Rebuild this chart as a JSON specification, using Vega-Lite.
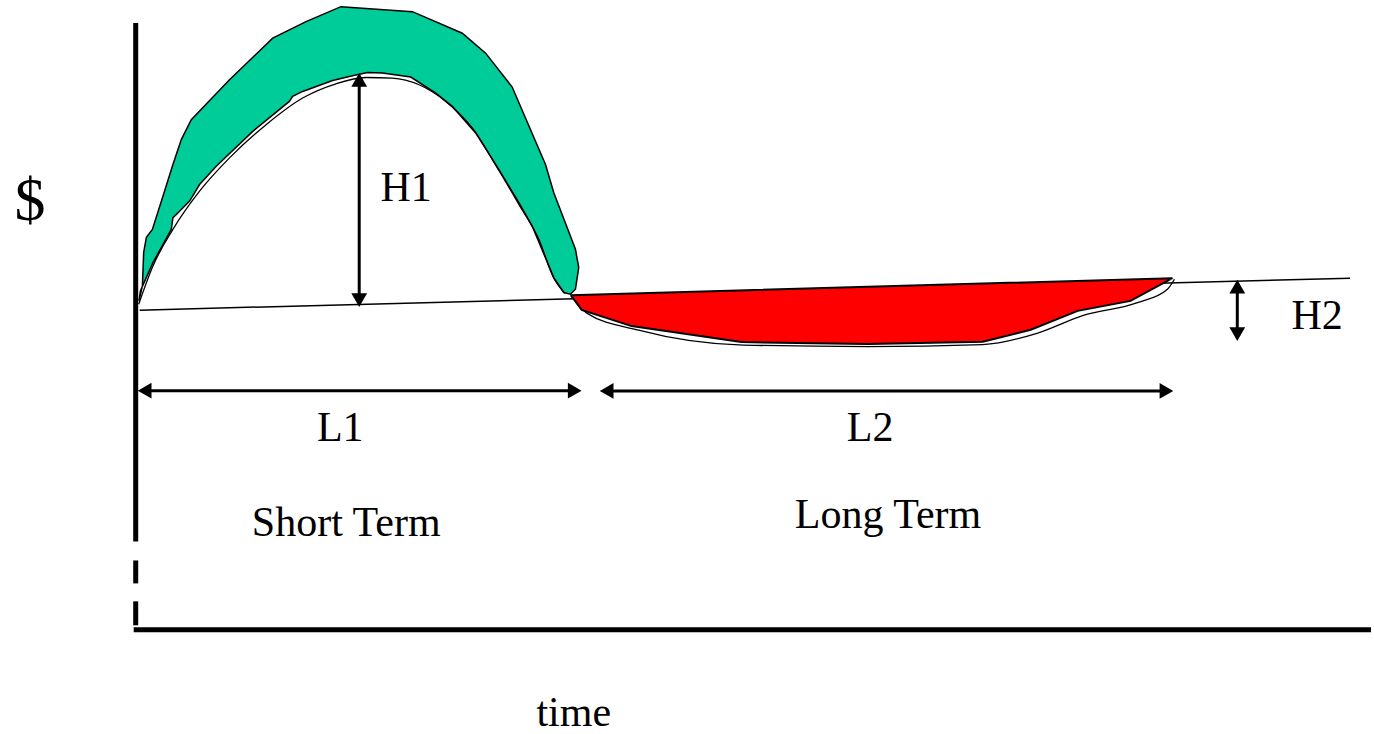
{
  "$schema": "https://vega.github.io/schema/vega-lite/v6.json",
  "width": 1374,
  "height": 734,
  "autosize": {"type": "fit", "contains": "padding"},
  "padding": 0,
  "background": "white",
  "config": {"view": {"stroke": null}},
  "datasets": {
    "green": [
      {"i": 0, "x": 139.3, "y": 301.7}, {"i": 1, "x": 142.7, "y": 286.7}, {"i": 2, "x": 144, "y": 253},
      {"i": 3, "x": 146.7, "y": 238}, {"i": 4, "x": 152.7, "y": 230}, {"i": 5, "x": 163.3, "y": 196.7},
      {"i": 6, "x": 173.3, "y": 165}, {"i": 7, "x": 181.7, "y": 140}, {"i": 8, "x": 191.7, "y": 120},
      {"i": 9, "x": 230, "y": 80}, {"i": 10, "x": 273.3, "y": 38.3}, {"i": 11, "x": 306.7, "y": 21.7},
      {"i": 12, "x": 341.7, "y": 6.7}, {"i": 13, "x": 413.3, "y": 11.7}, {"i": 14, "x": 463.3, "y": 33.3},
      {"i": 15, "x": 486.7, "y": 53.3}, {"i": 16, "x": 513.3, "y": 87.3}, {"i": 17, "x": 546.7, "y": 165},
      {"i": 18, "x": 555, "y": 193.3}, {"i": 19, "x": 576.7, "y": 250}, {"i": 20, "x": 580, "y": 268.3},
      {"i": 21, "x": 576.7, "y": 290}, {"i": 22, "x": 571.7, "y": 295}, {"i": 23, "x": 565, "y": 293.3},
      {"i": 24, "x": 555, "y": 278.3}, {"i": 25, "x": 533.3, "y": 226.7}, {"i": 26, "x": 520, "y": 203.3},
      {"i": 27, "x": 500, "y": 170}, {"i": 28, "x": 476.7, "y": 133.3}, {"i": 29, "x": 453.3, "y": 106.7},
      {"i": 30, "x": 436.7, "y": 93.3}, {"i": 31, "x": 411.7, "y": 77.3}, {"i": 32, "x": 383.3, "y": 73.3},
      {"i": 33, "x": 368.3, "y": 72.7}, {"i": 34, "x": 353.3, "y": 76}, {"i": 35, "x": 333.3, "y": 80.7},
      {"i": 36, "x": 303.3, "y": 91.7}, {"i": 37, "x": 293.3, "y": 96.7}, {"i": 38, "x": 290, "y": 101.7},
      {"i": 39, "x": 253.3, "y": 131.7}, {"i": 40, "x": 216.7, "y": 166.7}, {"i": 41, "x": 200, "y": 185},
      {"i": 42, "x": 195, "y": 193.3}, {"i": 43, "x": 190, "y": 201.7}, {"i": 44, "x": 176.7, "y": 215},
      {"i": 45, "x": 173.3, "y": 218.3}, {"i": 46, "x": 171.7, "y": 230}, {"i": 47, "x": 153.3, "y": 263.3},
      {"i": 48, "x": 140.7, "y": 291.7}, {"i": 49, "x": 139.3, "y": 301.7}
    ],
    "curve": [
      {"i": 0, "x": 139, "y": 305}, {"i": 1, "x": 153.3, "y": 266.7}, {"i": 2, "x": 173.3, "y": 230},
      {"i": 3, "x": 200, "y": 191.7}, {"i": 4, "x": 230, "y": 158.3}, {"i": 5, "x": 266.7, "y": 125},
      {"i": 6, "x": 303.3, "y": 98.3}, {"i": 7, "x": 336.7, "y": 84}, {"i": 8, "x": 366.7, "y": 77.7},
      {"i": 9, "x": 393.3, "y": 78.3}, {"i": 10, "x": 420, "y": 85}, {"i": 11, "x": 446.7, "y": 101.7},
      {"i": 12, "x": 473.3, "y": 128.3}, {"i": 13, "x": 500, "y": 171}, {"i": 14, "x": 520, "y": 205},
      {"i": 15, "x": 540, "y": 240}, {"i": 16, "x": 555, "y": 279}, {"i": 17, "x": 566, "y": 294}
    ],
    "red": [
      {"i": 0, "x": 572, "y": 296}, {"i": 1, "x": 1175, "y": 279}, {"i": 2, "x": 1133, "y": 301.7},
      {"i": 3, "x": 1080, "y": 311.7}, {"i": 4, "x": 1033, "y": 330.7}, {"i": 5, "x": 985, "y": 342.7},
      {"i": 6, "x": 870, "y": 345}, {"i": 7, "x": 743, "y": 343}, {"i": 8, "x": 633, "y": 327},
      {"i": 9, "x": 583, "y": 310.7}, {"i": 10, "x": 572, "y": 296}
    ],
    "redcurve": [
      {"i": 0, "x": 574, "y": 298}, {"i": 1, "x": 588, "y": 314}, {"i": 2, "x": 640, "y": 331},
      {"i": 3, "x": 745, "y": 346}, {"i": 4, "x": 870, "y": 347.5}, {"i": 5, "x": 985, "y": 345.5},
      {"i": 6, "x": 1040, "y": 334}, {"i": 7, "x": 1085, "y": 316.5}, {"i": 8, "x": 1140, "y": 303.5},
      {"i": 9, "x": 1170, "y": 290}, {"i": 10, "x": 1177, "y": 280}
    ],
    "axes": [
      {"x": 136, "y": 23, "x2": 136, "y2": 543},
      {"x": 136, "y": 562, "x2": 136, "y2": 585},
      {"x": 136, "y": 603, "x2": 136, "y2": 627},
      {"x": 134, "y": 631.5, "x2": 1374, "y2": 631.5}
    ],
    "baseline": [
      {"x": 140, "y": 311, "x2": 1353, "y2": 279}
    ],
    "shafts": [
      {"x": 360, "y": 80, "x2": 360, "y2": 301},
      {"x": 144, "y": 391.7, "x2": 577, "y2": 391.7},
      {"x": 607, "y": 392, "x2": 1170, "y2": 392},
      {"x": 1240, "y": 287, "x2": 1240, "y2": 335}
    ],
    "heads": [
      {"x": 360, "y": 80, "dir": "up"},
      {"x": 360, "y": 301, "dir": "down"},
      {"x": 1240, "y": 287.5, "dir": "up"},
      {"x": 1240, "y": 335, "dir": "down"},
      {"x": 145, "y": 391.7, "dir": "left"},
      {"x": 576, "y": 391.7, "dir": "right"},
      {"x": 608, "y": 392, "dir": "left"},
      {"x": 1169, "y": 392, "dir": "right"}
    ],
    "labels": [
      {"x": 407, "y": 202, "t": "H1"},
      {"x": 1320, "y": 330, "t": "H2"},
      {"x": 341, "y": 442, "t": "L1"},
      {"x": 872, "y": 442, "t": "L2"},
      {"x": 347, "y": 537, "t": "Short Term"},
      {"x": 890, "y": 529, "t": "Long Term"},
      {"x": 575, "y": 728, "t": "time"}
    ],
    "dollar": [
      {"x": 30, "y": 202, "t": "$"}
    ]
  },
  "layer": [
    {
      "data": {"name": "baseline"},
      "mark": {"type": "rule", "color": "black", "strokeWidth": 1.5},
      "encoding": {
        "x": {"field": "x", "type": "quantitative", "scale": {"domain": [0, 1374], "nice": false, "zero": false}, "axis": null},
        "y": {"field": "y", "type": "quantitative", "scale": {"domain": [0, 734], "nice": false, "zero": false, "reverse": true}, "axis": null},
        "x2": {"field": "x2"},
        "y2": {"field": "y2"}
      }
    },
    {
      "data": {"name": "green"},
      "mark": {"type": "line", "fill": "#00CC99", "stroke": "black", "strokeWidth": 1.5, "interpolate": "linear"},
      "encoding": {
        "x": {"field": "x", "type": "quantitative", "scale": {"domain": [0, 1374], "nice": false, "zero": false}, "axis": null},
        "y": {"field": "y", "type": "quantitative", "scale": {"domain": [0, 734], "nice": false, "zero": false, "reverse": true}, "axis": null},
        "order": {"field": "i", "type": "quantitative"}
      }
    },
    {
      "data": {"name": "curve"},
      "mark": {"type": "line", "stroke": "black", "strokeWidth": 1.3, "interpolate": "monotone"},
      "encoding": {
        "x": {"field": "x", "type": "quantitative", "scale": {"domain": [0, 1374], "nice": false, "zero": false}, "axis": null},
        "y": {"field": "y", "type": "quantitative", "scale": {"domain": [0, 734], "nice": false, "zero": false, "reverse": true}, "axis": null},
        "order": {"field": "i", "type": "quantitative"}
      }
    },
    {
      "data": {"name": "redcurve"},
      "mark": {"type": "line", "stroke": "black", "strokeWidth": 1.3, "interpolate": "monotone"},
      "encoding": {
        "x": {"field": "x", "type": "quantitative", "scale": {"domain": [0, 1374], "nice": false, "zero": false}, "axis": null},
        "y": {"field": "y", "type": "quantitative", "scale": {"domain": [0, 734], "nice": false, "zero": false, "reverse": true}, "axis": null},
        "order": {"field": "i", "type": "quantitative"}
      }
    },
    {
      "data": {"name": "red"},
      "mark": {"type": "line", "fill": "#FF0000", "stroke": "black", "strokeWidth": 2, "interpolate": "linear"},
      "encoding": {
        "x": {"field": "x", "type": "quantitative", "scale": {"domain": [0, 1374], "nice": false, "zero": false}, "axis": null},
        "y": {"field": "y", "type": "quantitative", "scale": {"domain": [0, 734], "nice": false, "zero": false, "reverse": true}, "axis": null},
        "order": {"field": "i", "type": "quantitative"}
      }
    },
    {
      "data": {"name": "axes"},
      "mark": {"type": "rule", "color": "black", "strokeWidth": 5},
      "encoding": {
        "x": {"field": "x", "type": "quantitative", "scale": {"domain": [0, 1374], "nice": false, "zero": false}, "axis": null},
        "y": {"field": "y", "type": "quantitative", "scale": {"domain": [0, 734], "nice": false, "zero": false, "reverse": true}, "axis": null},
        "x2": {"field": "x2"},
        "y2": {"field": "y2"}
      }
    },
    {
      "data": {"name": "shafts"},
      "mark": {"type": "rule", "color": "black", "strokeWidth": 3},
      "encoding": {
        "x": {"field": "x", "type": "quantitative", "scale": {"domain": [0, 1374], "nice": false, "zero": false}, "axis": null},
        "y": {"field": "y", "type": "quantitative", "scale": {"domain": [0, 734], "nice": false, "zero": false, "reverse": true}, "axis": null},
        "x2": {"field": "x2"},
        "y2": {"field": "y2"}
      }
    },
    {
      "data": {"name": "heads"},
      "mark": {"type": "point", "filled": true, "color": "black", "opacity": 1, "size": 250},
      "encoding": {
        "x": {"field": "x", "type": "quantitative", "scale": {"domain": [0, 1374], "nice": false, "zero": false}, "axis": null},
        "y": {"field": "y", "type": "quantitative", "scale": {"domain": [0, 734], "nice": false, "zero": false, "reverse": true}, "axis": null},
        "shape": {
          "field": "dir", "type": "nominal", "legend": null,
          "scale": {"domain": ["up", "down", "left", "right"], "range": ["triangle-up", "triangle-down", "triangle-left", "triangle-right"]}
        }
      }
    },
    {
      "data": {"name": "labels"},
      "mark": {"type": "text", "font": "Liberation Serif", "fontSize": 42, "color": "black", "align": "center", "baseline": "alphabetic"},
      "encoding": {
        "x": {"field": "x", "type": "quantitative", "scale": {"domain": [0, 1374], "nice": false, "zero": false}, "axis": null},
        "y": {"field": "y", "type": "quantitative", "scale": {"domain": [0, 734], "nice": false, "zero": false, "reverse": true}, "axis": null},
        "text": {"field": "t", "type": "nominal"}
      }
    },
    {
      "data": {"name": "dollar"},
      "mark": {"type": "text", "font": "Liberation Serif", "fontSize": 62, "color": "black", "align": "center", "baseline": "middle"},
      "encoding": {
        "x": {"field": "x", "type": "quantitative", "scale": {"domain": [0, 1374], "nice": false, "zero": false}, "axis": null},
        "y": {"field": "y", "type": "quantitative", "scale": {"domain": [0, 734], "nice": false, "zero": false, "reverse": true}, "axis": null},
        "text": {"field": "t", "type": "nominal"}
      }
    }
  ]
}
